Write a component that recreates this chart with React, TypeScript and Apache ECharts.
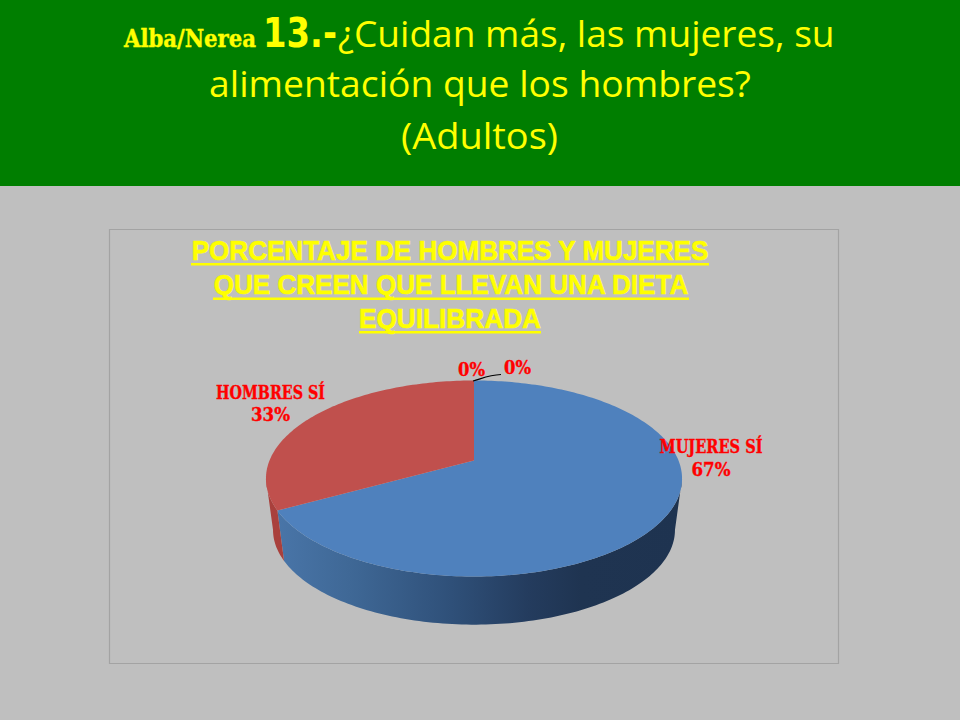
import React, { useEffect, useRef } from "react";
import * as echarts from "echarts";

const categories = ["MUJERES SÍ", "HOMBRES SÍ", "MUJERES NO", "HOMBRES NO"];
const values = [67, 33, 0, 0];
const showName = [true, true, false, false];
const topColors = ["#4f81bd", "#c0504d", "#9bbb59", "#8064a2"];

const headerLead = "Alba/Nerea";
const headerNumber = "13.-";
const headerLines = ["¿Cuidan más, las mujeres, su", "alimentación que los hombres?", "(Adultos)"];
const chartTitleLines = ["PORCENTAJE DE HOMBRES Y MUJERES", "QUE CREEN QUE LLEVAN UNA DIETA", "EQUILIBRADA"];

// label layout: [centre x, name baseline, value baseline, name width, value width]
const labelLayout = [
  [711, 453, 476, 103, 39],
  [270.5, 399, 421, 109, 39],
  [471.5, 0, 376, 0, 27],
  [517.5, 0, 374, 0, 27],
];

// perspective projection of the pie disc
const APEX = { x: 474, y: 460.5 };
const A = 204.5;
const B = 94.7;
const K = 0.1837;
const WALL_SCALE = 0.966;
const WALL_APEX_Y = 512.6;
// silhouette angles of the disc: the wall is only visible between them
const FRONT_START = Math.acos(-K);
const FRONT_END = Math.PI * 2 - FRONT_START;

const total = values.reduce((a, b) => a + b, 0);
const starts: number[] = [];
values.reduce((acc, v, i) => {
  starts[i] = acc;
  return acc + v;
}, 0);

function project(theta: number) {
  const u = Math.sin(theta);
  const v = Math.cos(theta);
  const w = 1 + K * v;
  return [(A * u) / w, (-B * v) / w];
}
function arc(a0: number, a1: number) {
  const n = Math.max(2, Math.ceil((a1 - a0) / 0.02));
  const pts: number[][] = [];
  for (let k = 0; k <= n; k++) pts.push(project(a0 + ((a1 - a0) * k) / n));
  return pts;
}
function sliceAngles(i: number) {
  return [(starts[i] / total) * Math.PI * 2, ((starts[i] + values[i]) / total) * Math.PI * 2];
}

const measureCanvas = document.createElement("canvas").getContext("2d")!;

function fitText(text: string, x: number, baseline: number, width: number, size: number, family: string, weight: string, fill: string, align: string, heavy = 0) {
  const font = `${weight} ${size}px ${family}`;
  measureCanvas.font = font;
  const m = measureCanvas.measureText(text);
  // zrender places the em-box centre half a line below y when verticalAlign is top
  const drop = size / 2 + (m.fontBoundingBoxAscent - m.fontBoundingBoxDescent) / 2;
  return {
    type: "text",
    x,
    y: baseline - drop,
    scaleX: width / m.width,
    silent: true,
    style: { text, font, fill, align, verticalAlign: "top", stroke: heavy ? fill : undefined, lineWidth: heavy },
  };
}

const BODY = "'Open Sans'";
const SERIF = "'DejaVu Serif'";
const SANS = "'Liberation Sans'";
const HEAVY = "'DejaVu Sans'";

export default function App() {
  const ref = useRef<HTMLDivElement>(null);
  useEffect(() => {
    const chart = echarts.init(ref.current!, undefined, { renderer: "svg", width: 960, height: 720 });
    const blueWall = new echarts.graphic.LinearGradient(
      277, 0, 682, 0,
      [
        { offset: 0, color: "#4975a8" },
        { offset: 0.18, color: "#3f6896" },
        { offset: 0.43, color: "#2f5079" },
        { offset: 0.62, color: "#243c5e" },
        { offset: 0.75, color: "#1f3451" },
        { offset: 1, color: "#1e3350" },
      ],
      true
    );
    const wallFill = [blueWall, "#a9403c", "#7d9347", "#64497f"];
    const dataItems = values.map((v) => [v]);
    const ul = (x1: number, x2: number, y: number) => ({
      type: "rect",
      shape: { x: x1, y, width: x2 - x1, height: 2.4 },
      style: { fill: "#ffff00" },
      silent: true,
    });
    chart.setOption({
      animation: false,
      backgroundColor: "#bfbfbf",
      graphic: [
        { type: "rect", shape: { x: 0, y: 0, width: 960, height: 186 }, style: { fill: "#007e00" }, silent: true },
        { type: "rect", shape: { x: 109.5, y: 229.5, width: 729, height: 434 }, style: { fill: "none", stroke: "#a3a3a3", lineWidth: 1.2 }, silent: true },
        fitText(headerLead, 124, 47, 132, 24, SERIF, "bold", "#ffff00", "left", 0.4),
        fitText(headerNumber, 263, 47, 74, 40, HEAVY, "bold", "#ffff00", "left"),
        fitText(headerLines[0], 338, 47, 497, 36, BODY, "normal", "#ffff00", "left"),
        fitText(headerLines[1], 480, 97, 542, 36, BODY, "normal", "#ffff00", "center"),
        fitText(headerLines[2], 479.5, 148, 157, 36, BODY, "normal", "#ffff00", "center"),
        fitText(chartTitleLines[0], 450, 260, 518, 27, SANS, "bold", "#ffff00", "center", 0.6),
        fitText(chartTitleLines[1], 451, 294, 476, 27, SANS, "bold", "#ffff00", "center", 0.6),
        fitText(chartTitleLines[2], 450, 328, 182, 27, SANS, "bold", "#ffff00", "center", 0.6),
        ul(191, 709, 263),
        ul(213, 689, 297.5),
        ul(359, 541, 331),
      ],
      series: [
        {
          type: "custom",
          name: "walls",
          coordinateSystem: "none",
          z: 2,
          data: dataItems,
          renderItem: (params: any, api: any) => {
            const i = params.dataIndex;
            if (!api.value(0)) return { type: "group", children: [] };
            const [a0, a1] = sliceAngles(i);
            const from = Math.max(a0, FRONT_START);
            const to = Math.min(a1, FRONT_END);
            if (to <= from) return { type: "group", children: [] };
            const pts = arc(from, to);
            const top = pts.map((p) => [APEX.x + p[0], APEX.y + p[1]]);
            const bottom = pts
              .map((p) => [APEX.x + p[0] * WALL_SCALE, WALL_APEX_Y + p[1] * WALL_SCALE])
              .reverse();
            return { type: "polygon", shape: { points: top.concat(bottom) }, style: { fill: wallFill[i] } };
          },
        },
        {
          type: "custom",
          name: "tops",
          coordinateSystem: "none",
          z: 3,
          data: dataItems,
          renderItem: (params: any, api: any) => {
            const i = params.dataIndex;
            if (!api.value(0)) return { type: "group", children: [] };
            const [a0, a1] = sliceAngles(i);
            const pts = arc(a0, a1).map((p) => [APEX.x + p[0], APEX.y + p[1]]);
            return { type: "polygon", shape: { points: [[APEX.x, APEX.y], ...pts] }, style: { fill: topColors[i] } };
          },
        },
        {
          type: "custom",
          name: "labels",
          coordinateSystem: "none",
          z: 4,
          data: dataItems,
          renderItem: (params: any, api: any) => {
            const i = params.dataIndex;
            const [cx, nameY, valueY, nameW, valueW] = labelLayout[i];
            const children: any[] = [];
            if (showName[i]) children.push(fitText(categories[i], cx, nameY, nameW, 18, SERIF, "bold", "#ff0000", "center", 0.4));
            children.push(fitText(`${api.value(0)}%`, cx, valueY, valueW, 19, SERIF, "bold", "#ff0000", "center", 0.4));
            if (i === 3) {
              children.push({
                type: "bezierCurve",
                shape: { x1: 473, y1: 381, cpx1: 481, cpy1: 379, cpx2: 488, cpy2: 375, x2: 501, y2: 374.5 },
                style: { stroke: "#000000", lineWidth: 1.2, fill: "none" },
              });
            }
            return { type: "group", children };
          },
        },
      ],
    });
    return () => chart.dispose();
  }, []);
  return <div ref={ref} style={{ position: "fixed", left: 0, top: 0, width: 960, height: 720 }} />;
}
